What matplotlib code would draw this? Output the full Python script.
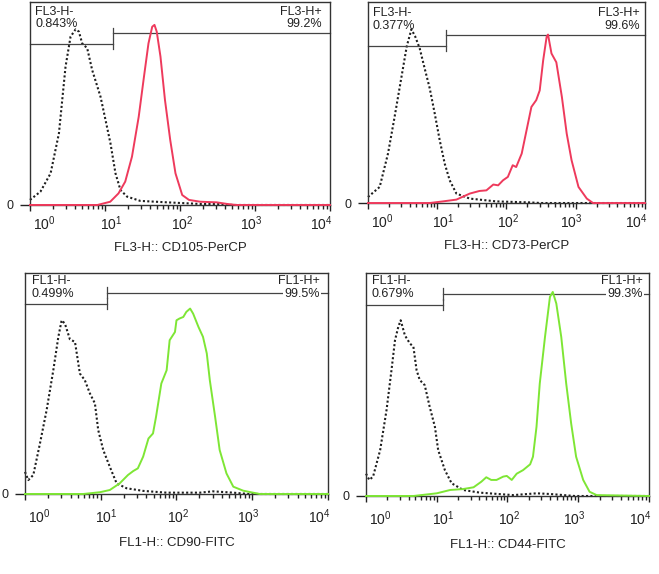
import matplotlib
matplotlib.use('Agg')
import matplotlib.pyplot as plt
import matplotlib.transforms as mtransforms
import numpy as np

plt.rcParams['font.family'] = ['Liberation Sans', 'DejaVu Sans']
plt.rcParams['mathtext.default'] = 'regular'

# x values are log10 of fluorescence, y values are height as fraction of the plot
cd105_iso_x = [0, 0.14, 0.275, 0.386, 0.474, 0.541, 0.608, 0.652, 0.696, 0.763, 0.829, 0.94, 1.007,
               1.073, 1.14, 1.206, 1.295, 1.472, 1.827, 2.27, 2.54, 2.7, 4]
cd105_iso_y = [0.025, 0.066, 0.156, 0.353, 0.681, 0.829, 0.865, 0.854, 0.796, 0.772, 0.665, 0.534, 0.419,
               0.304, 0.156, 0.074, 0.041, 0.020, 0.013, 0.005, 0.005, 0, 0]
cd105_x = [0, 0.9, 1.07, 1.18, 1.27, 1.36, 1.45, 1.52, 1.58, 1.63, 1.66, 1.69, 1.74, 1.80, 1.87,
           1.94, 2.03, 2.12, 2.27, 2.49, 2.63, 2.75, 4]
cd105_y = [0, 0, 0.016, 0.057, 0.115, 0.238, 0.435, 0.632, 0.796, 0.878, 0.887, 0.854, 0.731, 0.517,
           0.320, 0.156, 0.049, 0.025, 0.016, 0.013, 0.005, 0, 0]

cd73_iso_x = [0, 0.169, 0.289, 0.38, 0.48, 0.56, 0.627, 0.68, 0.747, 0.819, 0.892, 0.964, 1.036,
              1.108, 1.18, 1.277, 1.47, 1.855, 2.34, 2.5, 4]
cd73_iso_y = [0.03, 0.08, 0.246, 0.42, 0.62, 0.78, 0.864, 0.83, 0.769, 0.669, 0.57, 0.445, 0.312,
              0.196, 0.113, 0.047, 0.022, 0.008, 0.003, 0, 0]
cd73_x = [0, 0.89, 1.08, 1.277, 1.47, 1.61, 1.71, 1.81, 1.88, 1.95, 2.02, 2.09, 2.14, 2.22, 2.29,
          2.36, 2.43, 2.48, 2.53, 2.58, 2.60, 2.65, 2.72, 2.80, 2.87, 2.94, 3.04, 3.16, 3.25, 4]
cd73_y = [0, 0, 0.008, 0.017, 0.047, 0.06, 0.063, 0.092, 0.088, 0.113, 0.13, 0.188, 0.179, 0.246, 0.362,
          0.478, 0.512, 0.56, 0.71, 0.827, 0.838, 0.744, 0.70, 0.528, 0.345, 0.213, 0.08, 0.022, 0, 0]

cd90_iso_x = [0, 0.044, 0.11, 0.198, 0.286, 0.374, 0.44, 0.484, 0.527, 0.593, 0.66, 0.725, 0.79, 0.857,
              0.923, 0.967, 1.033, 1.12, 1.21, 1.34, 1.56, 1.87, 2.31, 2.48, 2.75, 2.95, 4]
cd90_iso_y = [0.10, 0.063, 0.086, 0.229, 0.38, 0.56, 0.71, 0.786, 0.771, 0.70, 0.688, 0.545, 0.515, 0.455,
              0.41, 0.289, 0.199, 0.123, 0.048, 0.026, 0.014, 0.006, 0.006, 0.012, 0.006, 0, 0]
cd90_x = [0, 0.77, 0.99, 1.12, 1.25, 1.36, 1.43, 1.49, 1.56, 1.63, 1.69, 1.73, 1.80, 1.87, 1.91, 1.98,
          2.0, 2.04, 2.09, 2.13, 2.18, 2.22, 2.29, 2.35, 2.40, 2.44, 2.51, 2.57, 2.66, 2.75, 2.88, 3.01, 3.1, 4]
cd90_y = [0, 0, 0.008, 0.018, 0.048, 0.086, 0.104, 0.116, 0.169, 0.251, 0.274, 0.349, 0.50, 0.56, 0.696,
          0.733, 0.786, 0.794, 0.801, 0.824, 0.839, 0.816, 0.756, 0.711, 0.636, 0.515, 0.349, 0.199, 0.093,
          0.033, 0.015, 0.006, 0, 0]

cd44_iso_x = [0, 0.047, 0.10, 0.20, 0.29, 0.36, 0.41, 0.456, 0.49, 0.55, 0.62, 0.67, 0.715, 0.76, 0.83,
              0.90, 0.974, 1.02, 1.115, 1.21, 1.374, 1.61, 2.08, 2.41, 2.6, 2.95, 4]
cd44_iso_y = [0.10, 0.072, 0.087, 0.206, 0.385, 0.564, 0.699, 0.758, 0.788, 0.72, 0.684, 0.669, 0.564, 0.52,
              0.497, 0.40, 0.31, 0.206, 0.116, 0.057, 0.027, 0.015, 0.004, 0.012, 0.009, 0, 0]
cd44_x = [0, 0.67, 1.0, 1.19, 1.37, 1.52, 1.63, 1.70, 1.77, 1.845, 1.94, 1.99, 2.06, 2.13, 2.22, 2.32,
          2.36, 2.41, 2.456, 2.53, 2.60, 2.64, 2.69, 2.76, 2.83, 2.90, 2.97, 3.07, 3.16, 3.26, 4]
cd44_y = [0, 0, 0.012, 0.027, 0.031, 0.039, 0.064, 0.084, 0.072, 0.072, 0.087, 0.09, 0.072, 0.10, 0.116,
          0.142, 0.176, 0.31, 0.504, 0.713, 0.893, 0.915, 0.863, 0.713, 0.504, 0.325, 0.176, 0.072, 0.019,
          0.004, 0]

tick_vals = [1, 10, 100, 1000, 10000]
tick_labels = ['$10^{0}$', '$10^{1}$', '$10^{2}$', '$10^{3}$', '$10^{4}$']
label_shift = [14, 6, 2, -4, -9]  # px, labels are squeezed in the original

red = '#ee3a5c'
green = '#7ee635'
ink = '#222222'

panels = [
    dict(rect=[0.0455, 0.6429, 0.4552, 0.3537], iso=(cd105_iso_x, cd105_iso_y), pos=(cd105_x, cd105_y),
         color=red, xlabel='FL3-H:: CD105-PerCP', neg='FL3-H-', negp='0.843%', posn='FL3-H+', posp='99.2%',
         gate=1.107, gy=(0.793, 0.847), ty=(0.951, 0.889), tx=(0.017, 0.973), xl=43, pad=3),
    dict(rect=[0.5584, 0.6463, 0.4203, 0.3502], iso=(cd73_iso_x, cd73_iso_y), pos=(cd73_x, cd73_y),
         color=red, xlabel='FL3-H:: CD73-PerCP', neg='FL3-H-', negp='0.377%', posn='FL3-H+', posp='99.6%',
         gate=1.126, gy=(0.781, 0.836), ty=(0.943, 0.879), tx=(0.018, 0.982), xl=43, pad=3),
    dict(rect=[0.0379, 0.1394, 0.4598, 0.385], iso=(cd90_iso_x, cd90_iso_y), pos=(cd90_x, cd90_y),
         color=green, xlabel='FL1-H:: CD90-FITC', neg='FL1-H-', negp='0.499%', posn='FL1-H+', posp='99.5%',
         gate=1.08, gy=(0.860, 0.910), ty=(0.962, 0.905), tx=(0.023, 0.974), xl=49, pad=5.5),
    dict(rect=[0.5554, 0.1359, 0.4294, 0.3885], iso=(cd44_iso_x, cd44_iso_y), pos=(cd44_x, cd44_y),
         color=green, xlabel='FL1-H:: CD44-FITC', neg='FL1-H-', negp='0.679%', posn='FL1-H+', posp='99.3%',
         gate=1.09, gy=(0.857, 0.906), ty=(0.963, 0.905), tx=(0.021, 0.979), xl=49, pad=5.5),
]

fig = plt.figure(figsize=(6.59, 5.74), dpi=100)

for p in panels:
    ax = fig.add_axes(p['rect'])
    ix, iy = p['iso']
    sx, sy = p['pos']
    ax.plot(10 ** np.array(ix), iy, color='#1e1e1e', lw=1.5, ls=(0, (1, 1.1)), clip_on=False, zorder=2)
    ax.plot(10 ** np.array(sx), sy, color=p['color'], lw=1.4, clip_on=False, zorder=3)

    ax.set_xscale('log')
    ax.set_xlim(1, 1e4)
    ax.set_ylim(0, 1)
    ax.set_xticks(tick_vals)
    ax.set_xticklabels(tick_labels)
    ax.set_yticks([0])
    ax.set_yticklabels(['0'])
    ax.tick_params(axis='x', which='major', direction='out', length=4, width=1, labelsize=10,
                   pad=p['pad'], colors=ink)
    ax.tick_params(axis='x', which='minor', direction='out', length=3, width=1, colors=ink)
    ax.tick_params(axis='y', direction='out', length=7, width=1, labelsize=9, pad=5, colors=ink)
    for sp in ax.spines.values():
        sp.set_color('#333333')
        sp.set_linewidth(1.0)

    for lab, dx in zip(ax.get_xticklabels(), label_shift):
        off = mtransforms.ScaledTranslation(dx / 100, 0, fig.dpi_scale_trans)
        lab.set_transform(lab.get_transform() + off)

    # gates
    tr = ax.get_xaxis_transform()
    g = 10 ** p['gate']
    gl, gr = p['gy']
    ax.plot([1, g], [gl, gl], color='#444444', lw=0.9, transform=tr, clip_on=False)
    ax.plot([g, 1e4], [gr, gr], color='#444444', lw=0.9, transform=tr, clip_on=False)
    ax.plot([g, g], [gl - 0.025, gl + 0.025], color='#444444', lw=0.9, transform=tr)
    ax.plot([g, g], [gr - 0.025, gr + 0.025], color='#444444', lw=0.9, transform=tr)

    tl, trx = p['tx']
    t1, t2 = p['ty']
    ax.text(tl, t1, p['neg'], transform=ax.transAxes, fontsize=9, va='center', ha='left', color=ink)
    ax.text(tl, t2, p['negp'], transform=ax.transAxes, fontsize=9, va='center', ha='left', color=ink)
    ax.text(trx, t1, p['posn'], transform=ax.transAxes, fontsize=9, va='center', ha='right', color=ink)
    ax.text(trx, t2, p['posp'], transform=ax.transAxes, fontsize=9, va='center', ha='right', color=ink,
            bbox=dict(facecolor='white', edgecolor='none', pad=1.0), zorder=5)

    ax.annotate(p['xlabel'], xy=(0.5, 0), xycoords='axes fraction', xytext=(0, -p['xl']),
                textcoords='offset pixels', ha='center', va='center', fontsize=9.5, color=ink)

fig.savefig('out.png', dpi=100)
